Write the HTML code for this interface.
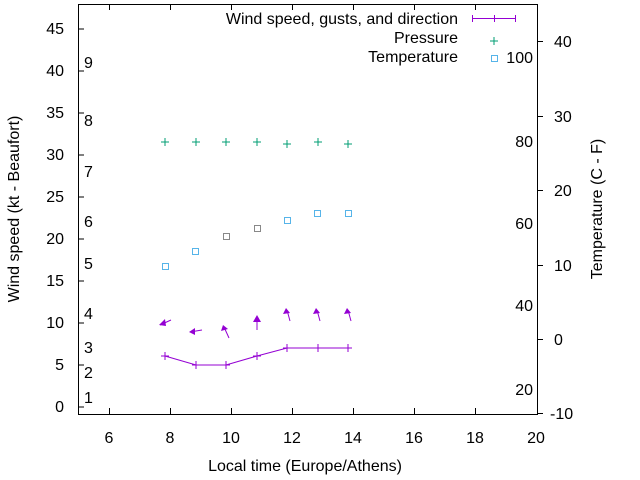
<!DOCTYPE html>
<html><head><style>body{margin:0;background:#fff}svg{display:block}text{font-family:"Liberation Sans",sans-serif;font-size:16px;fill:#000}</style></head><body>
<svg width="640" height="480" xmlns="http://www.w3.org/2000/svg">
<g stroke="#000" stroke-width="1" fill="none">
<rect x="78.5" y="4.5" width="459" height="410"/>
<path d="M78 407h6M78 365h6M78 323h6M78 281h6M78 239h6M78 197h6M78 155h6M78 113h6M78 71h6M78 29h6"/>
<path d="M109.5 414v-6M170.5 414v-6M231.5 414v-6M292.5 414v-6M353.5 414v-6M414.5 414v-6M475.5 414v-6M109.5 4v6M170.5 4v6M231.5 4v6M292.5 4v6M353.5 4v6M414.5 4v6M475.5 4v6"/>
<path d="M537 41.5h6M537 116.5h6M537 190.5h6M537 265.5h6M537 339.5h6M537 413.5h6"/>
</g>
<g text-anchor="end">
<text x="64" y="412">0</text><text x="64" y="370">5</text><text x="64" y="328">10</text><text x="64" y="286">15</text><text x="64" y="244">20</text><text x="64" y="202">25</text><text x="64" y="160">30</text><text x="64" y="118">35</text><text x="64" y="76">40</text><text x="64" y="34">45</text>
</g>
<g text-anchor="middle">
<text x="109" y="443">6</text><text x="170" y="443">8</text><text x="231" y="443">10</text><text x="292" y="443">12</text><text x="353" y="443">14</text><text x="414" y="443">16</text><text x="475" y="443">18</text><text x="536" y="443">20</text>
<text x="305" y="471">Local time (Europe/Athens)</text>
</g>
<g>
<text x="554" y="47">40</text><text x="554" y="122">30</text><text x="554" y="196">20</text><text x="554" y="271">10</text><text x="554" y="345">0</text><text x="550" y="419">-10</text>
</g>
<g>
<text x="84" y="403">1</text><text x="84" y="378">2</text><text x="84" y="353">3</text><text x="84" y="319">4</text><text x="84" y="269">5</text><text x="84" y="227">6</text><text x="84" y="177">7</text><text x="84" y="126">8</text><text x="84" y="68">9</text>
</g>
<g text-anchor="end">
<text x="533" y="395">20</text><text x="533" y="311">40</text><text x="533" y="229">60</text><text x="533" y="147">80</text><text x="533" y="63">100</text>
</g>
<text transform="translate(19,209) rotate(-90)" text-anchor="middle">Wind speed (kt - Beaufort)</text>
<text transform="translate(602,209) rotate(-90)" text-anchor="middle">Temperature (C - F)</text>
<g text-anchor="end">
<text x="458" y="24">Wind speed, gusts, and direction</text>
<text x="458" y="43">Pressure</text>
<text x="458" y="62">Temperature</text>
</g>
<g stroke="#9400d3" fill="none" stroke-width="1">
<path d="M472 18.5h44M472.5 15v7M494.5 15v7M515.5 15v7"/>
<polyline points="165,356 196,365 226,365 257,356 287,348 318,348 348,348"/>
<path d="M165 352v8M161 356h8M196 361v8M192 365h8M226 361v8M222 365h8M257 352v8M253 356h8M287 344v8M283 348h8M318 344v8M314 348h8M348 344v8M344 348h8"/>
<path d="M171 320L160 325M202 330L190 332M229 338L224 327M257 330L257 318M290 321L287 310M320 321L317 310M351 321L348 310"/>
</g>
<g fill="#9400d3">
<polygon points="159,325 165,319 166,326"/><polygon points="189,332 195,328 195,335"/><polygon points="223,325 221,331 228,329"/><polygon points="257,315 253,322 261,322"/><polygon points="286,308 283,314 290,313"/><polygon points="316,308 313,314 320,313"/><polygon points="347,308 344,314 351,313"/>
</g>
<g stroke="#009e73" stroke-width="1">
<path d="M494 37v8M490 41h8"/>
<path d="M165 138v8M161 142h8M196 138v8M192 142h8M226 138v8M222 142h8M257 138v8M253 142h8M287 140v8M283 144h8M318 138v8M314 142h8M348 140v8M344 144h8"/>
</g>
<g fill="none" stroke="#56b4e9">
<rect x="491.5" y="55.5" width="6" height="6"/>
<rect x="162.5" y="263.5" width="6" height="6"/><rect x="192.5" y="248.5" width="6" height="6"/><rect x="284.5" y="217.5" width="6" height="6"/><rect x="314.5" y="210.5" width="6" height="6"/><rect x="345.5" y="210.5" width="6" height="6"/>
</g>
<g fill="none" stroke="#888">
<rect x="223.5" y="233.5" width="6" height="6"/><rect x="254.5" y="225.5" width="6" height="6"/>
</g>
</svg>
</body></html>
